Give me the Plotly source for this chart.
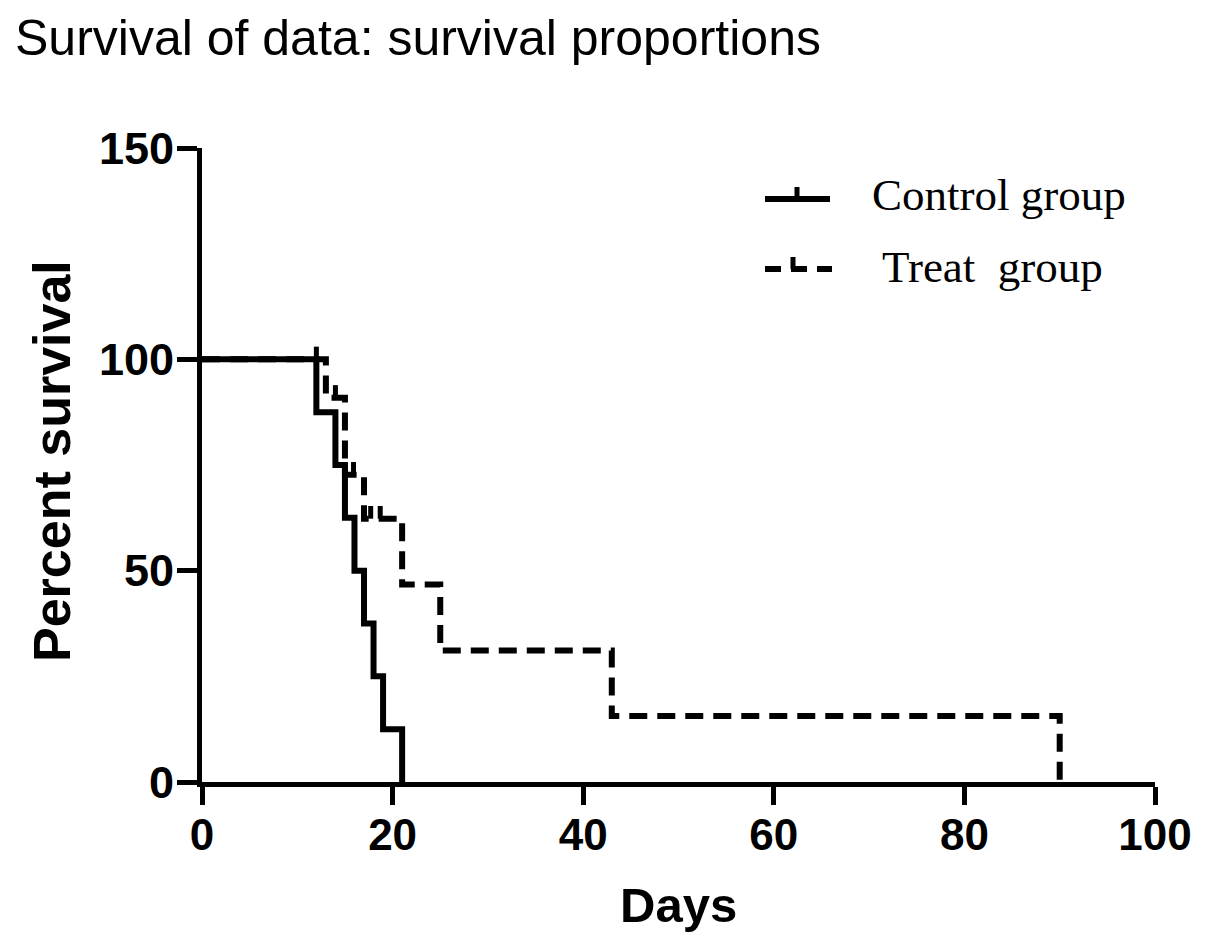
import plotly.graph_objects as go

# ---- data ----
control_days = [0, 12, 14, 15, 16, 17, 18, 19, 21]
control_surv = [100, 87.5, 75, 62.5, 50, 37.5, 25, 12.5, 0]
control_censor_days = [12]
control_censor_surv = [100]

treat_days = [0, 13, 15, 17, 21, 25, 43, 90]
treat_surv = [100, 90.9, 72.7, 62.3, 46.7, 31.1, 15.6, 0]
treat_censor_days = [14, 15.9, 17.7, 18.7]
treat_censor_surv = [90.9, 72.7, 62.3, 62.3]

x_ticks = [0, 20, 40, 60, 80, 100]
y_ticks = [0, 50, 100, 150]

title_text = "Survival of data: survival proportions"
x_title = "Days"
y_title = "Percent survival"
series_names = ["Control group", "Treat  group"]

TICK_H = 3.0  # censor tick height in % units

def censor_segments(xs, ys):
    sx, sy = [], []
    for x, y in zip(xs, ys):
        sx += [x, x, None]
        sy += [y, y + TICK_H, None]
    return sx, sy

DASH = "18px,10px"
W = 6

fig = go.Figure()
fig.add_trace(go.Scatter(x=control_days, y=control_surv, mode="lines",
                         line=dict(color="black", width=W, shape="hv"),
                         name=series_names[0], showlegend=False, hoverinfo="skip"))
cx, cy = censor_segments(control_censor_days, control_censor_surv)
fig.add_trace(go.Scatter(x=cx, y=cy, mode="lines", line=dict(color="black", width=5),
                         showlegend=False, hoverinfo="skip"))
fig.add_trace(go.Scatter(x=treat_days, y=treat_surv, mode="lines",
                         line=dict(color="black", width=W, shape="hv", dash=DASH),
                         name=series_names[1], showlegend=False, hoverinfo="skip"))
tx, ty = censor_segments(treat_censor_days, treat_censor_surv)
fig.add_trace(go.Scatter(x=tx, y=ty, mode="lines", line=dict(color="black", width=5),
                         showlegend=False, hoverinfo="skip"))

# page offset (browser body margin)
OFF = 8
FW, FH = 1205, 943
# plot area geometry (target screen pixels)
L, R, T, B = 202, 1155, 148, 782
PW, PH = R - L, B - T

def px(xp):
    return (xp - L) / PW

def py(yp):
    return (B - yp) / PH

# ---- manual legend ----
shapes = []
shapes.append(dict(type="line", xref="paper", yref="paper", x0=px(765), x1=px(830),
                   y0=py(199), y1=py(199), line=dict(color="black", width=W)))
shapes.append(dict(type="line", xref="paper", yref="paper", x0=px(797), x1=px(797),
                   y0=py(199), y1=py(187), line=dict(color="black", width=5)))
shapes.append(dict(type="line", xref="paper", yref="paper", x0=px(765), x1=px(832),
                   y0=py(269), y1=py(269), line=dict(color="black", width=W, dash="16px,10px")))
shapes.append(dict(type="line", xref="paper", yref="paper", x0=px(793), x1=px(793),
                   y0=py(269), y1=py(257), line=dict(color="black", width=5)))

annotations = [
    dict(text=series_names[0], xref="paper", yref="paper", x=px(870), y=py(195),
         xanchor="left", yanchor="middle", showarrow=False,
         font=dict(family="Liberation Serif", size=45, color="black")),
    dict(text=series_names[1], xref="paper", yref="paper", x=px(880), y=py(267),
         xanchor="left", yanchor="middle", showarrow=False,
         font=dict(family="Liberation Serif", size=45, color="black")),
    dict(text="<b>" + y_title + "</b>", xref="paper", yref="paper", x=px(52), y=py(461),
         xanchor="center", yanchor="middle", textangle=-90, showarrow=False,
         font=dict(family="Liberation Sans", size=52, color="black")),
    dict(text="<b>" + x_title + "</b>", xref="paper", yref="paper", x=px(678), y=py(905),
         xanchor="center", yanchor="middle", showarrow=False,
         font=dict(family="Liberation Sans", size=49, color="black")),
    dict(text=title_text, xref="paper", yref="paper", x=px(13), y=py(38),
         xanchor="left", yanchor="middle", showarrow=False,
         font=dict(family="Liberation Sans", size=50, color="black")),
]

fig.update_layout(
    width=FW, height=FH,
    margin=dict(l=L - OFF, r=FW - (R - OFF), t=T - OFF, b=FH - (B - OFF), autoexpand=False),
    paper_bgcolor="white", plot_bgcolor="white",
    shapes=shapes, annotations=annotations,
    xaxis=dict(range=[0, 100], tickvals=x_ticks, ticks="outside", ticklen=18, tickwidth=5,
               tickcolor="black", showline=True, linewidth=5, linecolor="black",
               showgrid=False, zeroline=False, ticklabelstandoff=-8,
               tickfont=dict(family="Liberation Sans", size=44, color="black", weight="bold")),
    yaxis=dict(range=[0, 150], tickvals=y_ticks, ticks="outside", ticklen=20, tickwidth=5,
               tickcolor="black", showline=True, linewidth=5, linecolor="black",
               showgrid=False, zeroline=False, ticklabelstandoff=-6,
               tickfont=dict(family="Liberation Sans", size=45, color="black", weight="bold")),
    showlegend=False,
)

fig.write_html("out.html")
